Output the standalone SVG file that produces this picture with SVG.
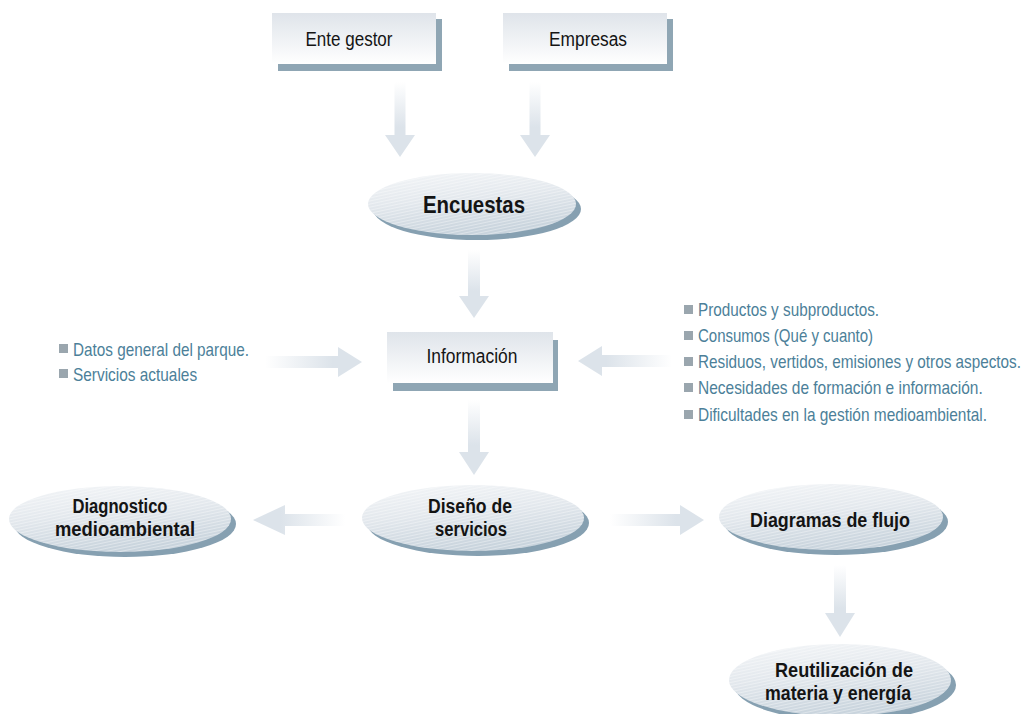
<svg xmlns="http://www.w3.org/2000/svg" width="1027" height="714" viewBox="0 0 1027 714">
<style>
.t{font-family:'Liberation Sans',Arial,sans-serif;fill:#141414;text-anchor:middle}
.bx{font-size:20px}
.el{font-size:20px;font-weight:bold}
.li{font-family:'Liberation Sans',Arial,sans-serif;font-size:18px;fill:#4c7f99}
.bul{fill:#9aa6ae}
.shadow{fill:#8fa6b4}
.box{fill:url(#gBox)}
.eshadow{fill:#86a0b1}
.ell{fill:url(#gEll)}
.hat{fill:url(#hatch)}
</style>
<defs>
<linearGradient id="gBox" x1="0" y1="0" x2="0" y2="1">
<stop offset="0" stop-color="#dfe4ea"/>
<stop offset="1" stop-color="#ffffff"/>
</linearGradient>
<linearGradient id="gEll" x1="0" y1="0" x2="0.3" y2="1">
<stop offset="0" stop-color="#f4f6f8"/>
<stop offset="0.5" stop-color="#e3e8ed"/>
<stop offset="1" stop-color="#c9d4dd"/>
</linearGradient>
<pattern id="hatch" width="6" height="3" patternUnits="userSpaceOnUse" patternTransform="rotate(-12)">
<line x1="0" y1="0.5" x2="6" y2="0.5" stroke="#ffffff" stroke-opacity="0.45" stroke-width="0.8"/>
</pattern>
<linearGradient id="gDown" x1="0" y1="0" x2="0" y2="1">
<stop offset="0" stop-color="#dce3ea" stop-opacity="0"/>
<stop offset="0.6" stop-color="#dce3ea"/>
<stop offset="1" stop-color="#dce3ea"/>
</linearGradient>
<linearGradient id="gRight" x1="0" y1="0" x2="1" y2="0">
<stop offset="0" stop-color="#dce3ea" stop-opacity="0"/>
<stop offset="0.7" stop-color="#dce3ea"/>
<stop offset="1" stop-color="#dce3ea"/>
</linearGradient>
<linearGradient id="gLeft" x1="1" y1="0" x2="0" y2="0">
<stop offset="0" stop-color="#dce3ea" stop-opacity="0"/>
<stop offset="0.7" stop-color="#dce3ea"/>
<stop offset="1" stop-color="#dce3ea"/>
</linearGradient>
</defs>
<rect width="1027" height="714" fill="#ffffff"/>

<g id="connectors">
<path d="M394.5,82 H405.5 V135 H415 L400,157 L385,135 H394.5 Z" fill="url(#gDown)"/>
<path d="M529.5,82 H540.5 V135 H550 L535,157 L520,135 H529.5 Z" fill="url(#gDown)"/>
<path d="M468,250 H480 V296 H489 L474,318 L459,296 H468 Z" fill="url(#gDown)"/>
<path d="M265,356 H338 V347 L362,362 L338,377 V368 H265 Z" fill="url(#gRight)"/>
<path d="M672,355 H602 V346 L578,361 L602,376 V367 H672 Z" fill="url(#gLeft)"/>
<path d="M468,400 H480 V452 H489 L474,475 L459,452 H468 Z" fill="url(#gDown)"/>
<path d="M345,514 H285 V505 L253,520 L285,535 V526 H345 Z" fill="url(#gLeft)"/>
<path d="M610,514 H680 V505 L704,520 L680,535 V526 H610 Z" fill="url(#gRight)"/>
<path d="M834,565 H846 V613 H855 L840,637 L825,613 H834 Z" fill="url(#gDown)"/>
</g>

<g id="ente-gestor">
<rect class="shadow" x="278" y="19" width="164" height="52"/>
<rect class="box" x="272" y="13" width="164" height="51"/>
<text class="t bx" x="349" y="46" textLength="87" lengthAdjust="spacingAndGlyphs">Ente gestor</text>
</g>

<g id="empresas">
<rect class="shadow" x="509" y="19" width="164" height="52"/>
<rect class="box" x="503" y="13" width="164" height="51"/>
<text class="t bx" x="588" y="46" textLength="78" lengthAdjust="spacingAndGlyphs">Empresas</text>
</g>

<g id="encuestas">
<ellipse class="eshadow" cx="477" cy="209" rx="104" ry="31"/>
<ellipse class="ell" cx="472" cy="204" rx="104" ry="31"/>
<ellipse class="hat" cx="472" cy="204" rx="104" ry="31"/>
<text class="t" x="474" y="213" style="font-size:23px;font-weight:bold" textLength="102" lengthAdjust="spacingAndGlyphs">Encuestas</text>
</g>

<g id="informacion">
<rect class="shadow" x="393" y="340" width="165" height="51"/>
<rect class="box" x="387" y="332" width="166" height="51"/>
<text class="t bx" x="472" y="363" textLength="91" lengthAdjust="spacingAndGlyphs">Información</text>
</g>

<g id="lista-izquierda">
<rect class="bul" x="59" y="344" width="9" height="9"/>
<text class="li" transform="translate(73,356) scale(0.85,1)" x="0" y="0" textLength="207" lengthAdjust="spacingAndGlyphs">Datos general del parque.</text>
<rect class="bul" x="59" y="369" width="9" height="9"/>
<text class="li" transform="translate(73,381) scale(0.85,1)" x="0" y="0" textLength="146" lengthAdjust="spacingAndGlyphs">Servicios actuales</text>
</g>

<g id="lista-derecha">
<rect class="bul" x="684" y="305" width="9" height="9"/>
<text class="li" transform="translate(698,316) scale(0.85,1)" x="0" y="0" textLength="213" lengthAdjust="spacingAndGlyphs">Productos y subproductos.</text>
<rect class="bul" x="684" y="331" width="9" height="9"/>
<text class="li" transform="translate(698,342) scale(0.85,1)" x="0" y="0" textLength="206" lengthAdjust="spacingAndGlyphs">Consumos (Qué y cuanto)</text>
<rect class="bul" x="684" y="357" width="9" height="9"/>
<text class="li" transform="translate(698,368) scale(0.85,1)" x="0" y="0" textLength="380" lengthAdjust="spacingAndGlyphs">Residuos, vertidos, emisiones y otros aspectos.</text>
<rect class="bul" x="684" y="383" width="9" height="9"/>
<text class="li" transform="translate(698,394) scale(0.85,1)" x="0" y="0" textLength="335" lengthAdjust="spacingAndGlyphs">Necesidades de formación e información.</text>
<rect class="bul" x="684" y="410" width="9" height="9"/>
<text class="li" transform="translate(698,421) scale(0.85,1)" x="0" y="0" textLength="340" lengthAdjust="spacingAndGlyphs">Dificultades en la gestión medioambiental.</text>
</g>

<g id="diagnostico">
<ellipse class="eshadow" cx="125" cy="524" rx="111" ry="33"/>
<ellipse class="ell" cx="120" cy="519" rx="111" ry="33"/>
<ellipse class="hat" cx="120" cy="519" rx="111" ry="33"/>
<text class="t el" x="120" y="513" textLength="95" lengthAdjust="spacingAndGlyphs">Diagnostico</text>
<text class="t el" x="125" y="536" textLength="140" lengthAdjust="spacingAndGlyphs">medioambiental</text>
</g>

<g id="diseno">
<ellipse class="eshadow" cx="478" cy="523" rx="111" ry="33"/>
<ellipse class="ell" cx="473" cy="518" rx="111" ry="33"/>
<ellipse class="hat" cx="473" cy="518" rx="111" ry="33"/>
<text class="t el" x="470" y="513" textLength="84" lengthAdjust="spacingAndGlyphs">Diseño de</text>
<text class="t el" x="471" y="536" textLength="72" lengthAdjust="spacingAndGlyphs">servicios</text>
</g>

<g id="diagramas">
<ellipse class="eshadow" cx="836" cy="522" rx="112" ry="33"/>
<ellipse class="ell" cx="831" cy="517" rx="112" ry="33"/>
<ellipse class="hat" cx="831" cy="517" rx="112" ry="33"/>
<text class="t el" x="830" y="527" textLength="160" lengthAdjust="spacingAndGlyphs">Diagramas de flujo</text>
</g>

<g id="reutilizacion">
<ellipse class="eshadow" cx="845" cy="685" rx="111" ry="36"/>
<ellipse class="ell" cx="840" cy="680" rx="111" ry="36"/>
<ellipse class="hat" cx="840" cy="680" rx="111" ry="36"/>
<text class="t el" x="844" y="677" textLength="138" lengthAdjust="spacingAndGlyphs">Reutilización de</text>
<text class="t el" x="838" y="700" textLength="146" lengthAdjust="spacingAndGlyphs">materia y energía</text>
</g>
</svg>
